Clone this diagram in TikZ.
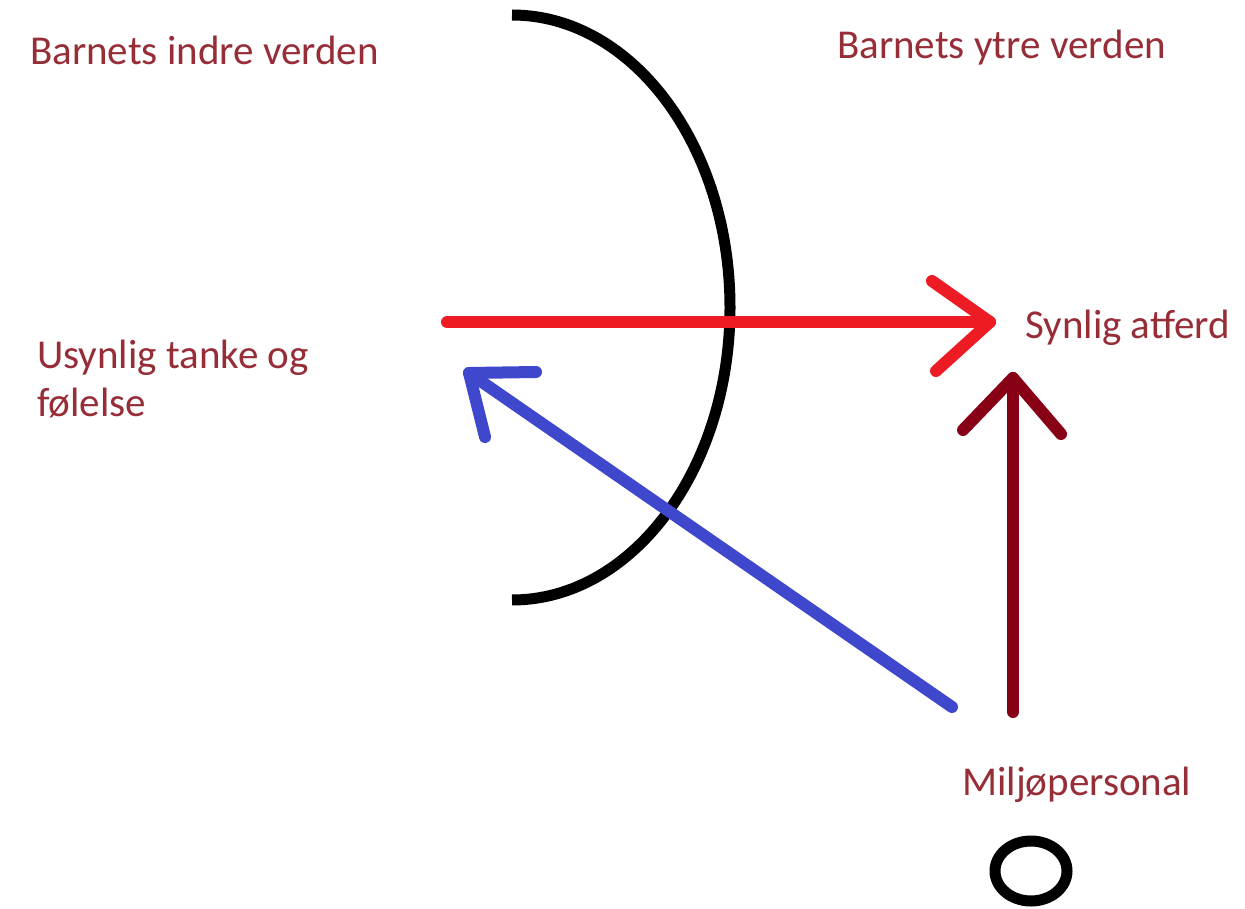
\documentclass[tikz,border=0pt]{standalone}
\usepackage{fontspec}
\setmainfont{Carlito}
\usetikzlibrary{shapes.geometric}
\definecolor{txt}{RGB}{150,45,55}
\definecolor{pred}{RGB}{237,28,36}
\definecolor{pblue}{RGB}{63,72,204}
\definecolor{pdark}{RGB}{136,0,21}
\begin{document}
\begin{tikzpicture}[x=1pt,y=-1pt,
  lbl/.style={anchor=west,text=txt,font=\fontsize{41}{48}\selectfont,inner sep=0pt,align=left},
  stroke/.style={line width=12pt,line cap=round,line join=round}]
\useasboundingbox[fill=white] (0,0) rectangle (1245,909);
% labels
\node[lbl] (indre) at (30,50) {Barnets indre verden};
\node[lbl] (ytre) at (837,48) {Barnets ytre verden};
\node[lbl] (usynlig) at (37,379) {Usynlig tanke og\\følelse};
\node[lbl] (synlig) at (1025,328) {Synlig atferd};
\node[lbl] (miljo) at (962,785) {Miljøpersonal};
% boundary arc
\draw[line width=11pt,line cap=butt] (512,15) arc[start angle=-90,end angle=90,x radius=218,y radius=292.5];
% circle (person)
\node[draw,line width=11pt,ellipse,minimum width=72pt,minimum height=60pt,inner sep=0pt] (person) at (1031,871) {};
% red arrow
\coordinate (rs) at (447,322);
\coordinate (rt) at (990,322);
\coordinate (ra) at (932,281);
\coordinate (rb) at (936,371);
\draw[stroke,pred] (rs) -- (rt);
\draw[stroke,pred] (ra) -- (rt) -- (rb);
% blue arrow
\coordinate (bs) at (952,707);
\coordinate (bt) at (469,373);
\coordinate (ba) at (536,372);
\coordinate (bb) at (485,437);
\draw[stroke,pblue] (bs) -- (bt);
\draw[stroke,pblue] (ba) -- (bt) -- (bb);
% dark red arrow
\coordinate (ds) at (1013,712);
\coordinate (dt) at (1013,378);
\coordinate (da) at (963,430);
\coordinate (db) at (1061,434);
\draw[stroke,pdark] (ds) -- (dt);
\draw[stroke,pdark] (da) -- (dt) -- (db);
\end{tikzpicture}
\end{document}
